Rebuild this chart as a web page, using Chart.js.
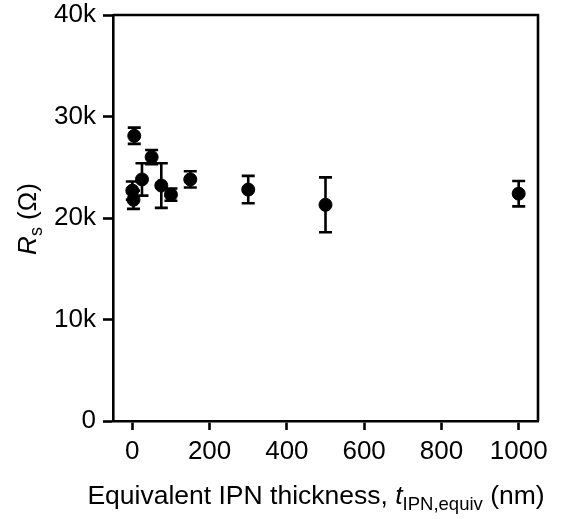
<!DOCTYPE html>
<html>
<head>
<meta charset="utf-8">
<script src="https://cdn.jsdelivr.net/npm/chart.js@4.4.1/dist/chart.umd.min.js"></script>
<style>
html,body{margin:0;padding:0;background:#fff;}
#wrap{width:564px;height:519px;position:relative;}
</style>
</head>
<body>
<div id="wrap"><canvas id="c" width="564" height="519"></canvas></div>
<script>
const thickness = [0, 3, 5, 25, 50, 75, 100, 150, 300, 500, 1000];
const resistance = [22700, 21800, 28100, 23800, 26000, 23200, 22300, 23800, 22800, 21300, 22400];
const resistanceErr = [900, 900, 800, 1600, 700, 2200, 600, 800, 1350, 2700, 1250];
const xTicks = [0, 200, 400, 600, 800, 1000];
const xTickLabels = ['0', '200', '400', '600', '800', '1000'];
const yTicks = [0, 10000, 20000, 30000, 40000];
const yTickLabels = ['0', '10k', '20k', '30k', '40k'];

const FONT = 'Liberation Sans, Arial, sans-serif';
const LW = 2.6;

const errorBars = {
  id: 'errorBars',
  afterDatasetsDraw(chart) {
    const ctx = chart.ctx;
    const xs = chart.scales.x, ys = chart.scales.y;
    ctx.save();
    ctx.strokeStyle = '#000';
    ctx.lineWidth = LW;
    for (let i = 0; i < thickness.length; i++) {
      const px = xs.getPixelForValue(thickness[i]);
      const top = ys.getPixelForValue(resistance[i] + resistanceErr[i]);
      const bot = ys.getPixelForValue(resistance[i] - resistanceErr[i]);
      ctx.beginPath();
      ctx.moveTo(px, top); ctx.lineTo(px, bot);
      ctx.moveTo(px - 6.5, top); ctx.lineTo(px + 6.5, top);
      ctx.moveTo(px - 6.5, bot); ctx.lineTo(px + 6.5, bot);
      ctx.stroke();
    }
    ctx.restore();
  }
};

const frameAndTitles = {
  id: 'frameAndTitles',
  afterDraw(chart) {
    const ctx = chart.ctx;
    const a = chart.chartArea;
    ctx.save();
    ctx.strokeStyle = '#000';
    ctx.lineWidth = LW;
    ctx.beginPath();
    ctx.moveTo(a.left, a.top);
    ctx.lineTo(a.right, a.top);
    ctx.lineTo(a.right, a.bottom);
    ctx.stroke();

    // X title
    ctx.fillStyle = '#000';
    ctx.textBaseline = 'alphabetic';
    const parts = [
      {t: 'Equivalent IPN thickness, ', f: '26.5px ' + FONT, dy: 0},
      {t: 't', f: 'italic 26.5px ' + FONT, dy: 0},
      {t: 'IPN,equiv', f: '18.5px ' + FONT, dy: 6},
      {t: ' (nm)', f: '26.5px ' + FONT, dy: 0}
    ];
    let total = 0;
    parts.forEach(p => { ctx.font = p.f; p.w = ctx.measureText(p.t).width; total += p.w; });
    let x = 316 - total / 2;
    const base = 504;
    parts.forEach(p => { ctx.font = p.f; ctx.fillText(p.t, x, base + p.dy); x += p.w; });

    // Y title (rotated)
    ctx.translate(36, 219);
    ctx.rotate(-Math.PI / 2);
    const yparts = [
      {t: 'R', f: 'italic 26px ' + FONT, dy: 0},
      {t: 's', f: '18px ' + FONT, dy: 6},
      {t: ' (Ω)', f: '26px ' + FONT, dy: 0}
    ];
    let yt = 0;
    yparts.forEach(p => { ctx.font = p.f; p.w = ctx.measureText(p.t).width; yt += p.w; });
    let yx = -yt / 2;
    yparts.forEach(p => { ctx.font = p.f; ctx.fillText(p.t, yx, p.dy); yx += p.w; });
    ctx.restore();
  }
};

new Chart(document.getElementById('c'), {
  type: 'scatter',
  data: {
    datasets: [{
      data: thickness.map((t, i) => ({x: t, y: resistance[i]})),
      backgroundColor: '#000',
      borderColor: '#000',
      pointRadius: 6.5,
      pointHoverRadius: 6.5
    }]
  },
  options: {
    responsive: false,
    animation: false,
    devicePixelRatio: 1,
    layout: {padding: {top: 15, right: 26, left: 0, bottom: 0}},
    plugins: {legend: {display: false}, tooltip: {enabled: false}},
    scales: {
      x: {
        type: 'linear',
        min: -50, max: 1050,
        afterBuildTicks(s) { s.ticks = xTicks.map(v => ({value: v})); },
        afterFit(s) { s.height = 98; s.paddingLeft = 0; s.paddingRight = 0; },
        grid: {drawOnChartArea: false, drawTicks: true, tickLength: 9, tickColor: '#000', tickWidth: LW},
        border: {display: true, color: '#000', width: LW},
        ticks: {
          color: '#000', font: {family: FONT, size: 26}, padding: 6, maxRotation: 0,
          callback: (v) => { const i = xTicks.indexOf(v); return i >= 0 ? xTickLabels[i] : ''; }
        }
      },
      y: {
        type: 'linear',
        min: 0, max: 40000,
        afterBuildTicks(s) { s.ticks = yTicks.map(v => ({value: v})); },
        afterFit(s) { s.width = 113; s.paddingTop = 0; s.paddingBottom = 0; },
        grid: {drawOnChartArea: false, drawTicks: true, tickLength: 10, tickColor: '#000', tickWidth: LW},
        border: {display: true, color: '#000', width: LW},
        ticks: {
          color: '#000', font: {family: FONT, size: 26}, padding: 7,
          callback: (v) => { const i = yTicks.indexOf(v); return i >= 0 ? yTickLabels[i] : ''; }
        }
      }
    }
  },
  plugins: [errorBars, frameAndTitles]
});
</script>
</body>
</html>
